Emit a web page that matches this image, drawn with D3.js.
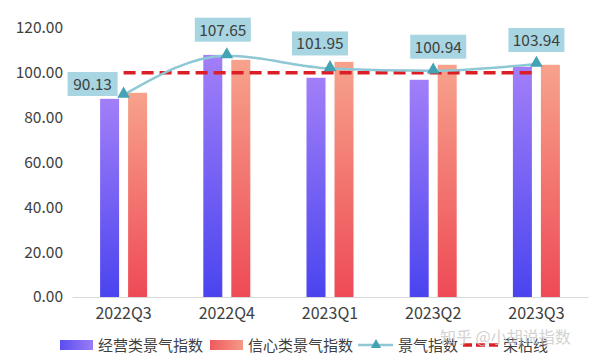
<!DOCTYPE html>
<html>
<head>
<meta charset="utf-8">
<script src="https://d3js.org/d3.v7.min.js"></script>
<style>
  body { margin: 0; background: #fff; }
  text { font-family: "Noto Sans CJK SC", "Open Sans", sans-serif; fill: #404040; }
</style>
</head>
<body>
<div class="chart"></div>
<script>
var svgWidth = 600;
var svgHeight = 362;

// data
var quarters = ["2022Q3", "2022Q4", "2023Q1", "2023Q2", "2023Q3"];
var businessIndex = [88.4, 108.0, 97.8, 96.9, 102.7];
var confidenceIndex = [91.1, 105.8, 104.9, 103.6, 103.6];
var climateIndex = [90.13, 107.65, 101.95, 100.94, 103.94];
var boomLine = 100;
var yTicks = [0, 20, 40, 60, 80, 100, 120];

var margin = { top: 28, right: 12, bottom: 65, left: 72 };
var width = svgWidth - margin.left - margin.right;
var height = svgHeight - margin.top - margin.bottom;

var svg = d3.select(".chart")
  .append("svg")
  .attr("width", svgWidth)
  .attr("height", svgHeight);

// gradients for bars
var defs = svg.append("defs");
function gradient(id, top, bottom, horizontal) {
  var g = defs.append("linearGradient").attr("id", id)
    .attr("x1", 0).attr("y1", 0)
    .attr("x2", horizontal ? 1 : 0).attr("y2", horizontal ? 0 : 1);
  g.append("stop").attr("offset", "0%").attr("stop-color", top);
  g.append("stop").attr("offset", "100%").attr("stop-color", bottom);
}
gradient("gPurple", "#a27ff8", "#4a44ef");
gradient("gRed", "#f7a28c", "#ee4a55");
gradient("gPurpleH", "#5a4ef0", "#9a7cf6", true);
gradient("gRedH", "#ef5a5c", "#f59a88", true);

var chartGroup = svg.append("g")
  .attr("transform", `translate(${margin.left}, ${margin.top})`);

var x = d3.scaleBand().domain(quarters).range([0, width]);
var y = d3.scaleLinear().domain([0, 120]).range([height, 0]);

// y axis labels
chartGroup.append("g")
  .call(d3.axisLeft(y).tickValues(yTicks).tickFormat(d3.format(".2f")).tickSize(0).tickPadding(9))
  .call(g => g.select(".domain").remove())
  .selectAll("text")
  .attr("font-size", "15.5px")
  .attr("fill", "#404040")
  .attr("font-family", "'Open Sans', sans-serif");

// x axis
chartGroup.append("g")
  .attr("transform", `translate(0, ${height})`)
  .call(d3.axisBottom(x).tickSize(0).tickPadding(11))
  .call(g => g.select(".domain").attr("stroke", "#d9d9d9"))
  .selectAll("text")
  .attr("font-size", "16px")
  .attr("fill", "#404040")
  .attr("font-family", "'Open Sans', sans-serif");

var barW = 19, gap = 4.5;

chartGroup.selectAll(".bar-b")
  .data(businessIndex)
  .enter()
  .append("rect")
  .attr("x", (d, i) => x(quarters[i]) + x.bandwidth() / 2 - gap - barW)
  .attr("y", d => y(d))
  .attr("width", barW)
  .attr("height", d => height - y(d))
  .attr("fill", "url(#gPurple)");

chartGroup.selectAll(".bar-c")
  .data(confidenceIndex)
  .enter()
  .append("rect")
  .attr("x", (d, i) => x(quarters[i]) + x.bandwidth() / 2 + gap)
  .attr("y", d => y(d))
  .attr("width", barW)
  .attr("height", d => height - y(d))
  .attr("fill", "url(#gRed)");

// boom-bust line
var cx = q => x(q) + x.bandwidth() / 2;
chartGroup.append("line")
  .attr("x1", cx(quarters[0]))
  .attr("x2", cx(quarters[quarters.length - 1]))
  .attr("y1", y(boomLine))
  .attr("y2", y(boomLine))
  .attr("stroke", "#dc1f26")
  .attr("stroke-width", 3.5)
  .attr("stroke-dasharray", "12,6");

// climate index line
var line = d3.line()
  .x((d, i) => cx(quarters[i]))
  .y(d => y(d))
  .curve(d3.curveMonotoneX);

chartGroup.append("path")
  .datum(climateIndex)
  .attr("d", line)
  .attr("fill", "none")
  .attr("stroke", "#8ec8d4")
  .attr("stroke-width", 2.5);

var tri = d3.symbol().type(d3.symbolTriangle).size(70);
chartGroup.selectAll(".marker")
  .data(climateIndex)
  .enter()
  .append("path")
  .attr("d", tri)
  .attr("transform", (d, i) => `translate(${cx(quarters[i])}, ${y(d) - 1})`)
  .attr("fill", "#43a2b3");

// value labels (first one is pushed left so it clears the line)
var labelShift = [[-31, 1], [-4, -14], [-10, -13], [5, -12], [0, -12]];
var labels = chartGroup.selectAll(".lbl")
  .data(climateIndex)
  .enter()
  .append("g")
  .attr("transform", (d, i) => `translate(${cx(quarters[i]) + labelShift[i][0]}, ${y(d) + labelShift[i][1]})`);

labels.append("rect")
  .attr("x", d => d < 100 ? -25 : -28)
  .attr("y", -24)
  .attr("width", d => d < 100 ? 50 : 56)
  .attr("height", 24)
  .attr("fill", "#a7d5e1");

labels.append("text")
  .attr("y", -6)
  .attr("text-anchor", "middle")
  .attr("font-size", "15.5px")
  .attr("fill", "#2f3a40")
  .attr("font-family", "'Open Sans', sans-serif")
  .text(d => d.toFixed(2));

// legend
var legend = svg.append("g").attr("transform", "translate(0, 345)");
legend.append("rect").attr("x", 60).attr("y", -5).attr("width", 33).attr("height", 10).attr("fill", "url(#gPurpleH)");
legend.append("text").attr("x", 98).attr("y", 6).attr("font-size", "15px").text("经营类景气指数");
legend.append("rect").attr("x", 210).attr("y", -5).attr("width", 33).attr("height", 10).attr("fill", "url(#gRedH)");
legend.append("text").attr("x", 248).attr("y", 6).attr("font-size", "15px").text("信心类景气指数");
legend.append("line").attr("x1", 358).attr("x2", 393).attr("y1", 0).attr("y2", 0)
  .attr("stroke", "#8ec8d4").attr("stroke-width", 2.5);
legend.append("path").attr("d", d3.symbol().type(d3.symbolTriangle).size(45))
  .attr("transform", "translate(376, 0)").attr("fill", "#43a2b3");
legend.append("text").attr("x", 398).attr("y", 6).attr("font-size", "15px").text("景气指数");
legend.append("line").attr("x1", 463).attr("x2", 500).attr("y1", 0).attr("y2", 0)
  .attr("stroke", "#dc1f26").attr("stroke-width", 3.5).attr("stroke-dasharray", "9,4");
legend.append("text").attr("x", 503).attr("y", 6).attr("font-size", "15px").text("荣枯线");

// watermark (sits over the legend, as in the source image)
svg.append("text")
  .attr("x", 440).attr("y", 343)
  .attr("font-size", "16px")
  .style("fill", "#c8c8c8")
  .attr("opacity", 0.8)
  .text("知乎 @小胡说指数");
</script>
</body>
</html>
